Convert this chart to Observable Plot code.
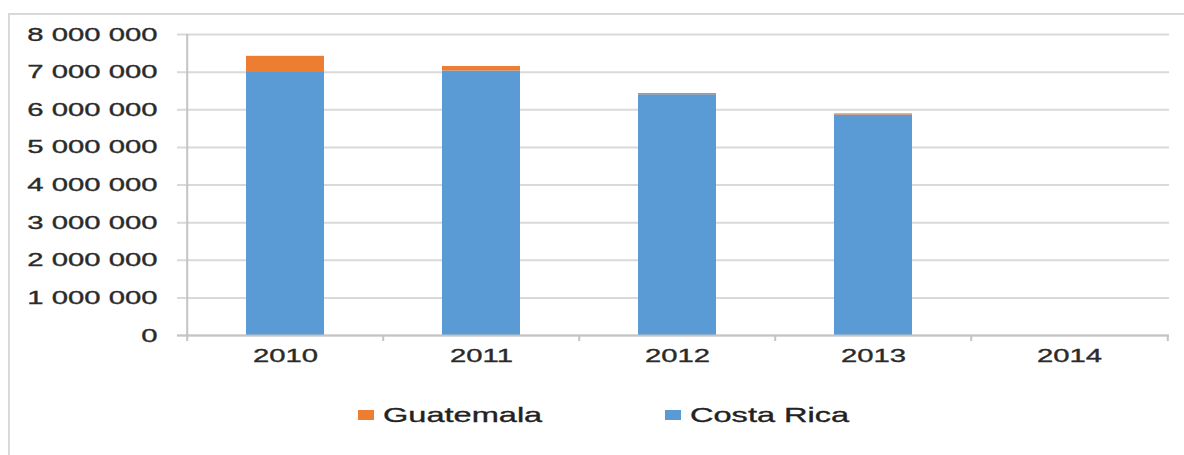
<!DOCTYPE html>
<html><head><meta charset="utf-8">
<script src="https://cdn.jsdelivr.net/npm/d3@7"></script>
<script src="https://cdn.jsdelivr.net/npm/@observablehq/plot@0.6"></script>
<style>
body{margin:0;background:#fff;overflow:hidden;font-family:"Liberation Sans",Arial,sans-serif;}
#wrap{position:relative;width:1184px;height:455px;overflow:hidden;}
#frame{position:absolute;left:8px;top:13px;width:1300px;height:600px;border-left:2px solid #d9d9d9;border-top:2px solid #d9d9d9;}
#chart{position:absolute;left:0;top:0;}
#chart svg text{stroke:#2a2a2a;stroke-width:0.35px;}
#legend{position:absolute;left:0;top:380px;width:1184px;height:75px;}
.item{position:absolute;top:27px;height:22px;}
.sw{position:absolute;left:0;top:3px;width:16px;height:10px;}
.lab{position:absolute;left:25px;top:-4px;font-size:21px;color:#222;-webkit-text-stroke:0.35px #222;white-space:nowrap;transform-origin:0 50%;transform:scaleX(1.55);}
</style>
</head><body>
<div id="wrap"><div id="frame"></div><div id="chart"></div><div id="legend"></div></div>
<script>
const years = ["2010", "2011", "2012", "2013", "2014"];
const costaRica = [6990000, 7030000, 6400000, 5860000, 0];
const guatemala = [430000, 120000, 30000, 30000, 0];
const seriesNames = ["Costa Rica", "Guatemala"];
const seriesColors = ["#5B9BD5", "#ED7D31"];
const legendOrder = ["Guatemala", "Costa Rica"];
const yTicks = [0, 1000000, 2000000, 3000000, 4000000, 5000000, 6000000, 7000000, 8000000];

const data = [];
years.forEach((y, i) => {
  data.push({year: y, series: "Costa Rica", value: costaRica[i]});
  data.push({year: y, series: "Guatemala", value: guatemala[i]});
});

const W = 1184, H = 380, mL = 186, mR = 15, mT = 34, mB = 45;
const step = (W - mL - mR) / years.length;
const fmt = d3.formatLocale({decimal: ",", thousands: " ", grouping: [3], currency: ["", ""]}).format(",");

const plot = Plot.plot({
  width: W, height: H,
  marginLeft: mL, marginRight: mR, marginTop: mT, marginBottom: mB,
  style: {fontSize: "19px", fontFamily: "'Liberation Sans', Arial, sans-serif", color: "#2a2a2a", background: "transparent"},
  x: {domain: years, paddingInner: 0.6, paddingOuter: 0.3, label: null},
  y: {domain: [0, 8000000], label: null},
  color: {domain: seriesNames, range: seriesColors},
  marks: [
    Plot.gridY(yTicks, {stroke: "#d9d9d9", strokeOpacity: 1, strokeWidth: 2, insetLeft: -9}),
    Plot.barY(data, {x: "year", y: "value", fill: "series"}),
    Plot.ruleY([0], {stroke: "#c4c4c4", strokeWidth: 2, insetLeft: -9}),
    Plot.ruleX([years[0]], {x: d => d, dx: -step / 2, stroke: "#c4c4c4", strokeWidth: 2}),
    Plot.ruleX(years, {x: d => d, dx: -step / 2, y1: 0, y2: 0, insetBottom: -6, stroke: "#c4c4c4", strokeWidth: 2}),
    Plot.ruleX([years[years.length - 1]], {x: d => d, dx: step / 2, y1: 0, y2: 0, insetBottom: -6, stroke: "#c4c4c4", strokeWidth: 2}),
    Plot.axisY(yTicks, {tickSize: 0, tickPadding: 29, tickFormat: fmt, label: null}),
    Plot.axisX({tickSize: 0, tickPadding: 13, label: null})
  ]
});
document.getElementById("chart").appendChild(plot);

plot.querySelectorAll("text").forEach(t => {
  const w = t.getComputedTextLength();
  if (w > 0) {
    t.setAttribute("textLength", (w * 1.54).toFixed(1));
    t.setAttribute("lengthAdjust", "spacingAndGlyphs");
  }
});

const legendPos = [358, 665];
const leg = document.getElementById("legend");
legendOrder.forEach((name, i) => {
  const it = document.createElement("div");
  it.className = "item";
  it.style.left = legendPos[i] + "px";
  const sw = document.createElement("div");
  sw.className = "sw";
  sw.style.background = seriesColors[seriesNames.indexOf(name)];
  const lab = document.createElement("div");
  lab.className = "lab";
  lab.textContent = name;
  it.appendChild(sw); it.appendChild(lab);
  leg.appendChild(it);
});
</script>
</body></html>
